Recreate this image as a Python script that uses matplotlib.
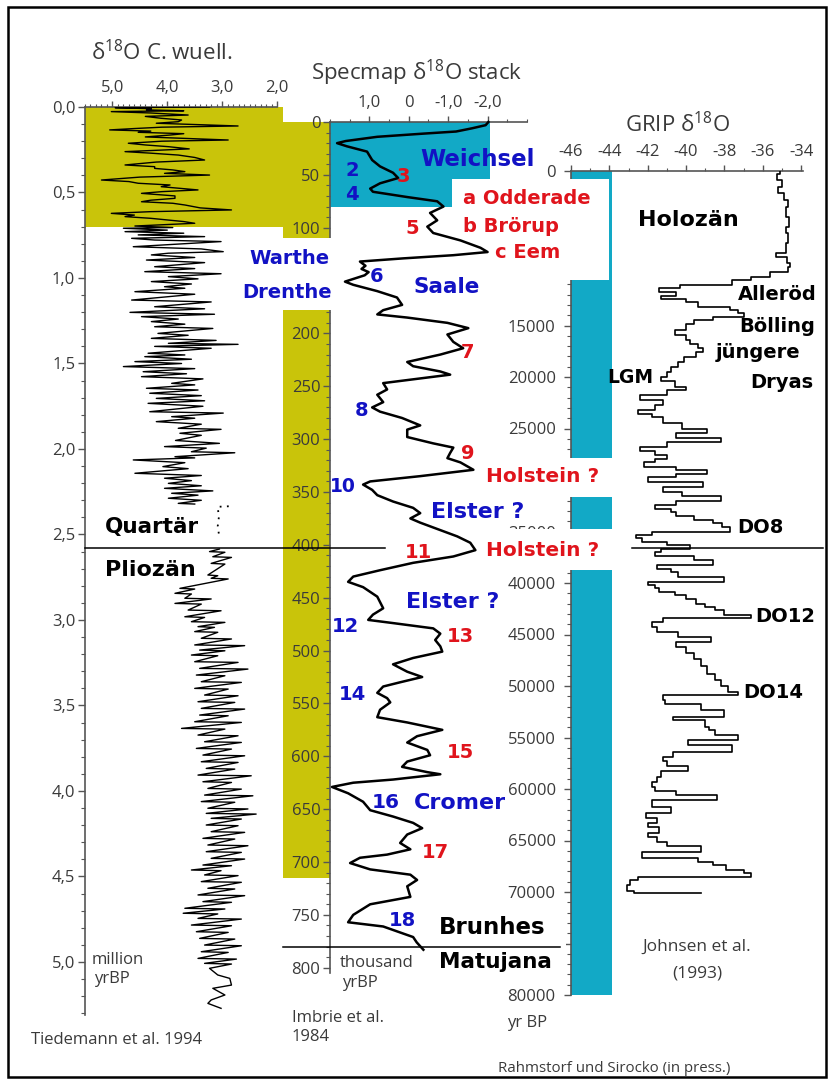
import matplotlib
matplotlib.use('Agg')
import matplotlib.pyplot as plt
from matplotlib.patches import Rectangle
from matplotlib.ticker import MultipleLocator

plt.rcParams['font.family'] = ['Open Sans', 'DejaVu Sans']
plt.rcParams['mathtext.default'] = 'regular'

W, H = 832, 1082

# benthic d18O, C. wuellerstorfi (Ma, permil)
cw_quart = [
    (0.000, 3.23), (0.004, 4.95), (0.010, 4.29), (0.017, 4.38), (0.022, 3.70), (0.027, 5.02),
    (0.035, 4.30), (0.047, 3.62), (0.055, 4.40), (0.066, 4.11), (0.076, 3.74), (0.086, 3.80),
    (0.095, 4.20), (0.111, 2.71), (0.118, 4.10), (0.126, 4.60), (0.134, 5.05), (0.141, 4.30),
    (0.148, 4.53), (0.156, 3.70), (0.164, 3.95), (0.175, 4.40), (0.193, 2.89), (0.200, 4.10),
    (0.212, 4.71), (0.222, 4.40), (0.232, 3.98), (0.245, 3.60), (0.261, 4.77), (0.270, 4.30),
    (0.281, 3.80), (0.295, 3.50), (0.310, 3.32), (0.322, 4.20), (0.339, 4.77), (0.349, 4.23),
    (0.359, 4.23), (0.368, 3.90), (0.378, 3.68), (0.388, 4.05), (0.398, 3.23), (0.410, 4.50),
    (0.427, 5.20), (0.436, 4.70), (0.446, 4.53), (0.456, 3.95), (0.466, 4.11), (0.475, 3.80),
    (0.485, 3.44), (0.495, 4.10), (0.505, 4.47), (0.520, 3.86), (0.534, 3.86), (0.545, 4.30),
    (0.554, 4.47), (0.563, 3.90), (0.573, 3.68), (0.590, 3.40), (0.602, 2.83), (0.612, 4.30),
    (0.622, 5.02), (0.632, 4.60), (0.641, 4.77), (0.651, 4.30), (0.661, 3.98), (0.670, 3.70),
    (0.680, 3.50), (0.690, 4.20), (0.696, 4.59), (0.705, 3.90), (0.709, 4.80), (0.720, 4.00),
    (0.729, 4.77), (0.738, 3.70), (0.748, 4.53), (0.758, 3.32), (0.768, 4.65), (0.778, 4.23),
    (0.787, 3.02), (0.800, 3.70), (0.817, 4.62), (0.830, 3.38), (0.846, 2.98), (0.855, 3.98),
    (0.865, 4.29), (0.880, 3.50), (0.895, 4.38), (0.910, 3.32), (0.934, 4.23), (0.945, 3.50),
    (0.963, 4.41), (0.975, 3.02), (0.992, 3.98), (1.005, 3.44), (1.021, 4.29), (1.035, 3.56),
    (1.051, 4.05), (1.060, 3.68), (1.080, 4.59), (1.095, 3.50), (1.129, 4.65), (1.140, 3.20),
    (1.168, 4.23), (1.180, 3.32), (1.201, 4.68), (1.212, 3.14), (1.226, 4.47), (1.240, 3.80),
    (1.255, 4.29), (1.270, 3.68), (1.285, 4.23), (1.295, 3.17), (1.324, 4.17), (1.335, 3.62),
    (1.353, 4.29), (1.365, 3.11), (1.382, 3.98), (1.388, 2.71), (1.400, 4.23), (1.411, 3.20),
    (1.440, 4.35), (1.450, 3.68), (1.460, 4.41), (1.475, 3.56), (1.489, 4.59), (1.500, 3.74),
    (1.518, 4.80), (1.530, 3.50), (1.548, 4.44), (1.560, 3.65), (1.577, 4.47), (1.590, 3.35),
    (1.616, 3.92), (1.625, 3.50), (1.645, 4.38), (1.655, 3.44), (1.674, 4.32), (1.688, 3.38),
    (1.704, 4.20), (1.718, 3.32), (1.733, 4.35), (1.750, 3.35), (1.782, 4.32), (1.790, 2.98),
    (1.811, 3.92), (1.820, 3.50), (1.840, 4.20), (1.855, 3.38), (1.879, 3.80), (1.885, 3.02),
    (1.908, 3.77), (1.920, 3.38), (1.950, 3.85), (1.967, 3.05), (1.986, 4.05), (1.995, 3.29),
    (2.016, 3.56), (2.022, 2.77), (2.045, 3.86), (2.052, 3.50), (2.064, 4.62), (2.080, 3.68),
    (2.103, 4.08), (2.115, 3.62), (2.142, 4.59), (2.155, 3.38), (2.171, 4.05), (2.185, 3.56),
    (2.201, 3.98), (2.215, 3.38), (2.230, 4.05), (2.245, 3.17), (2.259, 3.92), (2.270, 3.44),
    (2.288, 3.98), (2.300, 3.38), (2.318, 3.80), (2.322, 3.50),
]
cw_gap = [(2.335, 2.88), (2.338, 3.08), (2.400, 3.06), (2.450, 3.08), (2.520, 3.05)]
cw_plio = [
    (2.585, 3.05), (2.600, 3.23), (2.604, 2.95), (2.630, 3.17), (2.634, 2.83), (2.669, 3.20),
    (2.673, 2.95), (2.737, 3.26), (2.741, 3.08), (2.756, 3.20), (2.760, 2.89), (2.815, 3.77),
    (2.819, 3.50), (2.844, 3.86), (2.848, 3.56), (2.873, 3.68), (2.877, 3.20), (2.903, 3.86),
    (2.907, 3.38), (2.942, 3.62), (2.946, 3.02), (2.981, 3.68), (2.985, 3.32), (3.010, 3.56),
    (3.014, 2.95), (3.039, 3.44), (3.043, 3.14), (3.068, 3.50), (3.072, 3.08), (3.107, 3.38),
    (3.111, 2.83), (3.146, 3.50), (3.150, 2.59), (3.176, 3.41), (3.180, 2.95), (3.205, 3.56),
    (3.209, 3.08), (3.244, 3.50), (3.248, 2.71), (3.283, 3.41), (3.287, 2.53), (3.322, 3.47),
    (3.326, 2.95), (3.361, 3.38), (3.365, 2.65), (3.400, 3.50), (3.404, 2.89), (3.439, 3.32),
    (3.443, 2.71), (3.478, 3.44), (3.482, 2.77), (3.517, 3.38), (3.521, 2.59), (3.556, 3.41),
    (3.560, 2.89), (3.595, 3.50), (3.599, 2.65), (3.634, 3.74), (3.638, 2.95), (3.673, 3.44),
    (3.677, 2.71), (3.712, 3.32), (3.716, 2.65), (3.751, 3.47), (3.755, 2.83), (3.790, 3.35),
    (3.794, 2.59), (3.829, 3.38), (3.833, 2.71), (3.868, 3.29), (3.872, 2.77), (3.907, 3.44),
    (3.911, 2.47), (3.946, 3.35), (3.950, 2.83), (3.985, 3.26), (3.989, 2.65), (4.024, 3.32),
    (4.028, 2.44), (4.062, 3.38), (4.066, 2.77), (4.101, 3.26), (4.105, 2.53), (4.131, 3.29),
    (4.135, 2.38), (4.160, 3.20), (4.164, 2.65), (4.199, 3.29), (4.203, 2.71), (4.238, 3.20),
    (4.242, 2.59), (4.277, 3.35), (4.281, 2.77), (4.316, 3.26), (4.320, 2.53), (4.355, 3.29),
    (4.359, 2.65), (4.394, 3.20), (4.398, 2.59), (4.433, 3.35), (4.437, 2.83), (4.462, 3.56),
    (4.466, 3.02), (4.491, 3.32), (4.495, 2.71), (4.530, 3.38), (4.534, 2.65), (4.569, 3.26),
    (4.573, 2.77), (4.608, 3.44), (4.612, 2.59), (4.647, 3.35), (4.651, 2.83), (4.686, 3.68),
    (4.690, 2.95), (4.715, 3.71), (4.719, 3.08), (4.745, 3.44), (4.749, 2.65), (4.784, 3.56),
    (4.788, 2.83), (4.823, 3.47), (4.827, 2.89), (4.862, 3.41), (4.866, 2.77), (4.901, 3.32),
    (4.905, 2.65), (4.940, 3.38), (4.944, 2.89), (4.979, 3.44), (4.983, 2.74), (5.008, 3.32),
    (5.012, 2.83), (5.037, 3.23), (5.076, 3.08), (5.096, 2.86), (5.135, 2.83), (5.154, 3.17),
    (5.193, 2.95), (5.222, 3.20), (5.242, 3.26), (5.271, 3.02),
]

# SPECMAP stack (kyr, permil)
specmap = [
    (0, -2.02), (3, -1.95), (6, -1.60), (9, -1.20), (11, -0.37), (14, 0.80), (18, 1.60),
    (20, 1.82), (23, 1.57), (28, 1.06), (36, 0.93), (42, 0.73), (48, 0.40), (53, 0.27),
    (58, 0.73), (63, 0.98), (66, 0.91), (71, 0.04), (75, -0.72), (80, -0.88), (86, -0.54),
    (93, -0.72), (99, -0.47), (105, -0.62), (112, -1.31), (119, -1.82), (123, -2.00),
    (126, -1.13), (129, 0.14), (132, 1.24), (136, 1.10), (139, 1.20), (142, 1.02), (145, 1.12),
    (151, 1.62), (154, 1.41), (160, 0.80), (166, 0.30), (173, 0.17), (178, 0.65), (182, 0.80),
    (185, 0.04), (190, -0.98), (195, -1.51), (201, -0.98), (208, -1.13), (214, -1.38),
    (220, -0.80), (227, 0.04), (231, -0.11), (236, -0.80), (239, -1.05), (243, -0.21),
    (247, 0.65), (253, 0.55), (258, 0.80), (265, 0.65), (270, 0.93), (274, 0.73), (280, 0.17),
    (287, -0.29), (291, 0.04), (298, 0.04), (304, -0.62), (308, -1.13), (313, -1.05),
    (318, -0.98), (322, -1.31), (329, -1.64), (335, -0.29), (340, 0.98), (343, 1.16),
    (348, 0.93), (353, 0.80), (359, 0.40), (365, -0.11), (370, -0.29), (375, -0.04),
    (379, -0.29), (386, -0.80), (392, -1.23), (398, -1.56), (405, -1.69), (411, -1.13),
    (417, -0.11), (424, 0.73), (430, 1.41), (435, 1.54), (440, 1.16), (449, 0.80), (460, 0.65),
    (466, 0.91), (471, 1.03), (474, 0.40), (479, -0.62), (484, -0.80), (490, -0.67),
    (496, -0.80), (501, -0.85), (507, -0.11), (513, 0.40), (520, 0.04), (525, -0.34),
    (530, 0.22), (534, 0.65), (540, 0.80), (545, 0.55), (549, 0.47), (556, 0.73), (563, 0.80),
    (568, 0.04), (575, -0.85), (581, -0.21), (587, 0.04), (594, -0.47), (599, -0.54),
    (605, 0.04), (610, 0.17), (615, -0.47), (617, -0.80), (622, 0.40), (625, 1.41),
    (629, 1.95), (635, 1.54), (643, 1.16), (651, 0.98), (657, 0.40), (663, -0.11),
    (668, -0.34), (674, 0.04), (682, 0.22), (688, -0.04), (693, 0.55), (696, 1.24),
    (701, 1.49), (707, 0.98), (712, -0.04), (717, -0.21), (723, 0.04), (733, -0.04),
    (740, 0.98), (750, 1.41), (757, 1.54), (761, 0.65), (771, -0.11), (776, -0.20),
    (783, -0.37),
]

# GRIP ice core d18O (yr BP, permil)
grip = [
    (0, -35.1), (300, -35.25), (870, -35.0), (1520, -35.2), (2170, -34.9), (2820, -34.7),
    (3460, -34.8), (4430, -34.65), (5400, -34.8), (6050, -34.7), (7020, -34.8), (7990, -35.3),
    (8320, -34.75), (8960, -34.6), (9290, -34.7), (9770, -35.6), (10260, -36.6), (10580, -37.6),
    (11070, -40.3), (11400, -41.4), (11720, -40.5), (12100, -41.3), (12460, -40.0),
    (12690, -39.4), (13170, -37.7), (13500, -37.3), (13820, -37.0), (14140, -38.6),
    (14470, -39.6), (14900, -40.0), (15440, -40.6), (15900, -40.0), (16410, -39.8),
    (16800, -39.4), (17220, -39.1), (17600, -39.5), (18030, -40.1), (18500, -40.4),
    (19000, -40.8), (19500, -41.0), (19970, -41.3), (20400, -40.6), (20940, -40.0),
    (21300, -41.0), (21700, -42.4), (22200, -41.2), (22700, -41.6), (23200, -42.5),
    (23600, -41.8), (23900, -41.2), (24500, -40.2), (25000, -38.9), (25400, -40.5),
    (25900, -38.2), (26300, -41.0), (26800, -42.4), (27200, -41.6), (27600, -41.0),
    (28000, -41.6), (28300, -42.2), (28700, -40.5), (29000, -38.9), (29400, -40.5),
    (29700, -42.0), (30200, -39.1), (30700, -41.2), (31200, -40.2), (31600, -38.2),
    (32000, -40.5), (32400, -41.6), (32800, -40.8), (33100, -40.5), (33500, -39.6),
    (33900, -38.6), (34200, -38.1), (34600, -37.7), (35000, -41.8), (35300, -42.6),
    (35600, -42.3), (36000, -41.0), (36300, -39.8), (36700, -41.3), (37000, -41.6),
    (37400, -39.6), (37800, -38.6), (38300, -41.5), (38600, -40.8), (38900, -40.4),
    (39400, -38.0), (39900, -42.0), (40200, -41.6), (40500, -41.4), (40900, -40.6),
    (41200, -40.0), (41600, -39.5), (42000, -39.0), (42300, -38.5), (42600, -38.0),
    (43100, -36.6), (43400, -41.2), (43800, -41.8), (44300, -41.5), (44800, -40.4),
    (45200, -38.7), (45700, -40.5), (46200, -40.0), (46800, -39.6), (47400, -39.2),
    (48100, -38.9), (48800, -38.5), (49400, -38.2), (50000, -37.8), (50600, -37.3),
    (50900, -41.2), (51400, -41.1), (51700, -39.2), (52300, -38.0), (53000, -40.7),
    (53300, -39.0), (54000, -38.8), (54300, -38.5), (54800, -37.3), (55200, -39.9),
    (55700, -37.6), (56400, -40.7), (56900, -41.2), (57300, -41.0), (57800, -39.9),
    (58300, -41.3), (58800, -41.5), (59300, -41.8), (59800, -41.6), (60200, -40.5),
    (60600, -38.4), (61100, -41.8), (61700, -40.8), (62300, -42.1), (62800, -41.5),
    (63300, -42.0), (63700, -41.4), (64300, -42.0), (64700, -41.5), (65100, -41.0),
    (65500, -39.2), (66100, -42.3), (66700, -39.4), (67100, -38.6), (67400, -37.9),
    (67900, -37.0), (68200, -36.6), (68500, -42.5), (68800, -42.9), (69300, -43.1),
    (69900, -42.7), (70100, -39.2),
]

# period boundaries
quart_base = 2.58      # Ma
brunhes_base = 780     # kyr
yellow_span = (0, 0.70)        # Ma, stretched into the Specmap panel
yellow_span_kyr = (0, 715)
cyan_span_kyr = (0, 80)
cyan_span_yr = (0, 80000)

cw_ticks = [0.0, 0.5, 1.0, 1.5, 2.0, 2.5, 3.0, 3.5, 4.0, 4.5, 5.0]
cw_ticklabels = ['0,0', '0,5', '1,0', '1,5', '2,0', '2,5', '3,0', '3,5', '4,0', '4,5', '5,0']
cw_xticks = [5, 4, 3, 2]
cw_xticklabels = ['5,0', '4,0', '3,0', '2,0']
sp_yticks = list(range(0, 801, 50))
sp_yticklabels = ['0', '50', '100', '', '200', '250', '300', '350', '400', '450', '500',
                  '550', '600', '650', '700', '750', '800']
sp_xticks = [1, 0, -1, -2]
sp_xticklabels = ['1,0', '0', '-1,0', '-2,0']
gr_yticks = list(range(0, 80001, 5000))
gr_yticklabels = ['0', '', '', '15000', '20000', '25000', '', '35000', '40000', '45000',
                  '50000', '55000', '60000', '65000', '70000', '', '80000']
gr_xticks = [-46, -44, -42, -40, -38, -36, -34]
gr_xticklabels = ['-46', '-44', '-42', '-40', '-38', '-36', '-34']

YELLOW = '#c9c40a'
CYAN = '#12a9c6'
BLUE = '#1212c4'
RED = '#e0141c'
GREY = '#3a3a3a'

fig = plt.figure(figsize=(W / 100, H / 100), dpi=100)


def panel(x0, y0, x1, y1):
    ax = fig.add_axes([x0 / W, 1 - y1 / H, (x1 - x0) / W, (y1 - y0) / H])
    ax.set_facecolor('none')
    ax.spines['right'].set_visible(False)
    ax.spines['bottom'].set_visible(False)
    for s in ('left', 'top'):
        ax.spines[s].set_color('#555555')
        ax.spines[s].set_linewidth(1.2)
    ax.xaxis.tick_top()
    ax.tick_params(which='both', direction='out', colors='#555555', labelcolor=GREY, labelsize=12)
    ax.tick_params(which='major', length=5, width=1.0)
    ax.tick_params(which='minor', length=3, width=0.8)
    ax.tick_params(axis='x', which='major', length=4, pad=4)
    ax.tick_params(axis='x', which='minor', length=2.5)
    return ax


def unzip(pairs):
    return [p[0] for p in pairs], [p[1] for p in pairs]


# --- C. wuellerstorfi panel
ax1 = panel(85, 107, 277, 1015)
ax1.set_xlim(5.5, 2.0)
ax1.set_ylim(5.31, 0)
ax1.set_yticks(cw_ticks)
ax1.set_yticklabels(cw_ticklabels)
ax1.set_xticks(cw_xticks)
ax1.set_xticklabels(cw_xticklabels)
ax1.xaxis.set_minor_locator(MultipleLocator(0.1))
ax1.yaxis.set_minor_locator(MultipleLocator(0.1))
ax1.tick_params(axis='y', which='major', pad=2)
ax1.add_patch(Rectangle((0, yellow_span[0]), 1.031, yellow_span[1] - yellow_span[0],
                        transform=ax1.get_yaxis_transform(), color=YELLOW, lw=0,
                        zorder=0.8, clip_on=False))
a, v = unzip(cw_quart)
ax1.plot(v, a, color='black', lw=1.0, zorder=3)
a, v = unzip(cw_gap)
ax1.plot(v, a, color='black', lw=1.3, ls=(0, (1, 3)), zorder=3)
a, v = unzip(cw_plio)
ax1.plot(v, a, color='black', lw=1.0, zorder=3)
# Quaternary/Pliocene boundary, drawn across to the GRIP panel
ax1.plot([0, 1.5625], [quart_base, quart_base], transform=ax1.get_yaxis_transform(),
         color='black', lw=1.1, clip_on=False, zorder=6)
ax1.plot([2.849, 3.844], [quart_base, quart_base], transform=ax1.get_yaxis_transform(),
         color='black', lw=1.1, clip_on=False, zorder=6)

# --- Specmap panel
ax2 = panel(330, 122, 527, 973)
ax2.set_xlim(2.0, -3.0)
ax2.set_ylim(805, 0)
ax2.set_yticks(sp_yticks)
ax2.set_yticklabels(sp_yticklabels)
ax2.set_xticks(sp_xticks)
ax2.set_xticklabels(sp_xticklabels)
ax2.xaxis.set_minor_locator(MultipleLocator(0.5))
ax2.yaxis.set_minor_locator(MultipleLocator(10))
ax2.tick_params(axis='y', which='major', pad=2)
yt = ax2.get_yaxis_transform()
ax2.add_patch(Rectangle((-0.239, yellow_span_kyr[0]), 0.239, yellow_span_kyr[1],
                        transform=yt, color=YELLOW, lw=0, zorder=0.8, clip_on=False))
ax2.add_patch(Rectangle((2.0, cyan_span_kyr[0]), -4.07, cyan_span_kyr[1],
                        color=CYAN, lw=0, zorder=0.8))
# white label fields
for x0, x1, y0, y1 in [(-0.457, 0.016, 109.7, 177.8), (0.619, 1.416, 53.9, 149.4),
                       (0.772, 1.447, 317.7, 354.6), (0.772, 1.447, 384.9, 423.6),
                       (0.523, 1.198, 743.3, 813.2)]:
    ax2.add_patch(Rectangle((x0, y0), x1 - x0, y1 - y0, transform=yt, facecolor='white',
                            edgecolor='none', zorder=3, clip_on=False))
a, v = unzip(specmap)
ax2.plot(v, a, color='black', lw=1.8, zorder=4, clip_on=False)
ax2.plot([-0.239, 1.1675], [brunhes_base, brunhes_base], transform=yt, color='black',
         lw=1.1, clip_on=False, zorder=5)

# --- GRIP panel
ax3 = panel(571, 171, 803, 995)
ax3.set_xlim(-46, -33.9)
ax3.set_ylim(80000, 0)
ax3.set_yticks(gr_yticks)
ax3.set_yticklabels(gr_yticklabels)
ax3.set_xticks(gr_xticks)
ax3.set_xticklabels(gr_xticklabels)
ax3.xaxis.set_minor_locator(MultipleLocator(1))
ax3.yaxis.set_minor_locator(MultipleLocator(1000))
ax3.tick_params(axis='y', which='major', pad=6)
ax3.add_patch(Rectangle((-46, cyan_span_yr[0]), 2.13, cyan_span_yr[1],
                        color=CYAN, lw=0, zorder=0.8, clip_on=False))
a, v = unzip(grip)
ax3.plot(v, a, color='black', lw=1.2, drawstyle='steps-pre', zorder=3)

ax1.set_zorder(3)
ax2.set_zorder(2)
ax3.set_zorder(1)


def txt(s, x, y, color=GREY, size=12, weight='normal', ha='center', family=None):
    fig.text(x / W, 1 - y / H, s, color=color, fontsize=size, fontweight=weight, ha=ha,
             va='center', zorder=10, family=family or ['Open Sans', 'DejaVu Sans'])


def bold(s, x, y, color, size=15, ha='center'):
    txt(s, x, y, color, size, 'bold', ha, 'DejaVu Sans')


# headers
txt('δ$^{18}$O C. wuell.', 162, 53, size=16)
txt('Specmap δ$^{18}$O stack', 417, 73, size=16)
txt('GRIP δ$^{18}$O', 678, 125, size=16)

# marine isotope stages and stratigraphy
for s, x, y, size in [('2', 352, 170, 14), ('4', 352, 194, 14), ('Weichsel', 478, 160, 16.5),
                      ('Warthe', 289, 258, 14), ('Drenthe', 287, 292, 14), ('6', 377, 277, 14),
                      ('Saale', 447, 287, 15.5), ('8', 362, 410, 14), ('10', 343, 487, 13.5),
                      ('Elster ?', 478, 512, 16), ('Elster ?', 453, 602, 16), ('12', 345, 627, 14),
                      ('14', 352, 695, 14), ('16', 386, 803, 14.5), ('Cromer', 460, 803, 16),
                      ('18', 402, 920, 14)]:
    bold(s, x, y, BLUE, size)
for s, x, y, size in [('3', 403, 177, 14), ('5', 412, 228, 14), ('7', 468, 352, 14),
                      ('9', 468, 453, 14), ('Holstein ?', 543, 477, 14.5),
                      ('Holstein ?', 543, 550, 14.5), ('11', 418, 552, 14),
                      ('13', 460, 637, 14), ('15', 460, 753, 14), ('17', 435, 852, 14)]:
    bold(s, x, y, RED, size)
bold('a Odderade', 463, 198, RED, 14, 'left')
bold('b Brörup', 463, 227, RED, 14, 'left')
bold('c Eem', 495, 253, RED, 14, 'left')
for s, x, y, size in [('Holozän', 688, 220, 16), ('Alleröd', 777, 295, 14),
                      ('Bölling', 777, 327, 14), ('jüngere', 758, 353, 14), ('Dryas', 782, 382, 14),
                      ('LGM', 630, 377, 13.5), ('DO8', 760, 527, 14), ('DO12', 785, 617, 14),
                      ('DO14', 773, 692, 14), ('Quartär', 152, 527, 15.5),
                      ('Pliozän', 150, 570, 16), ('Brunhes', 492, 928, 16.5),
                      ('Matujana', 495, 962, 15.5)]:
    bold(s, x, y, 'black', size)

# units and sources
txt('million', 118, 960)
txt('yrBP', 112, 979)
txt('thousand', 377, 963)
txt('yrBP', 360, 983)
txt('yr BP', 527, 1023)
txt('Tiedemann et al. 1994', 117, 1040)
txt('Imbrie et al.', 292, 1018, ha='left')
txt('1984', 292, 1037, ha='left')
txt('Johnsen et al.', 697, 947, size=12.5)
txt('(1993)', 697, 974, size=12.5)
txt('Rahmstorf und Sirocko (in press.)', 614, 1068, size=10.8)

fig.add_artist(Rectangle((8 / W, 1 - 1077 / H), 818 / W, 1070 / H, transform=fig.transFigure,
                         fill=False, edgecolor='black', lw=1.8, zorder=11))

fig.savefig('out.png', dpi=100)
